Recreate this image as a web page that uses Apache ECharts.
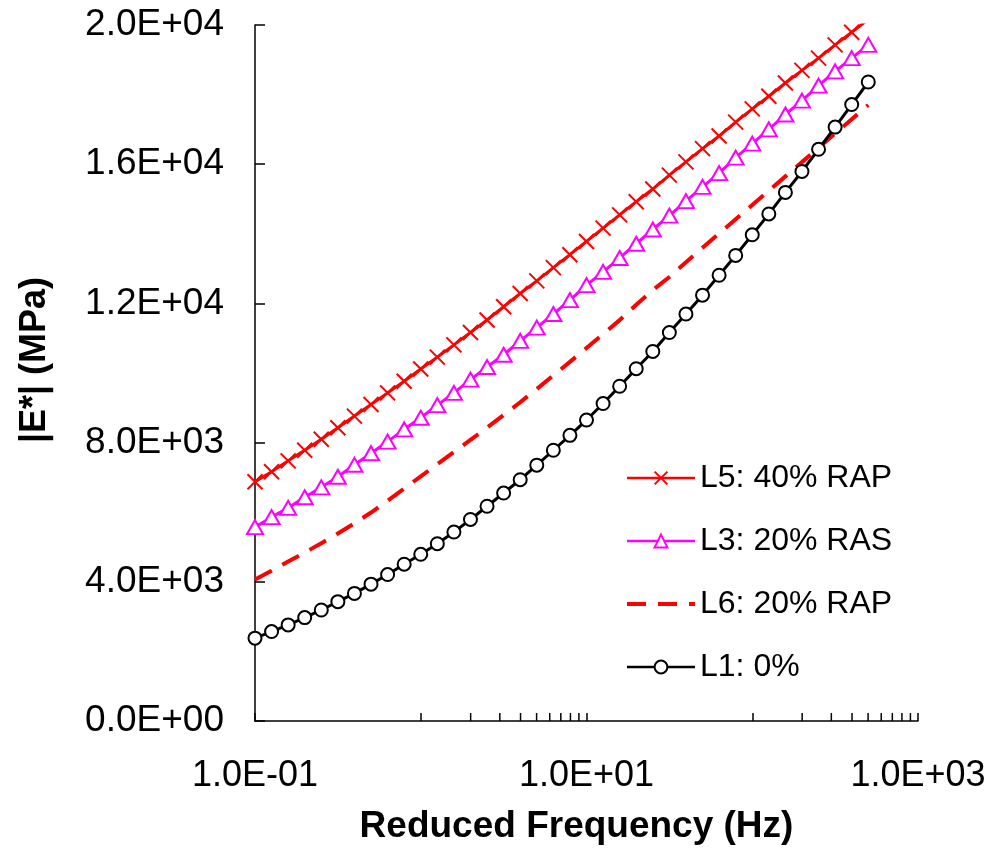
<!DOCTYPE html>
<html>
<head>
<meta charset="utf-8">
<title>|E*| vs Reduced Frequency</title>
<script src="https://cdn.jsdelivr.net/npm/echarts@6/dist/echarts.min.js"></script>
<style>
  html, body { margin: 0; padding: 0; background: #fff; }
  #chart { width: 992px; height: 850px; }
</style>
</head>
<body>
<div id="chart"></div>
<script>
// Reduced frequency sampling points (Hz)
const freq = [0.1, 0.1259, 0.1585, 0.1995, 0.2512, 0.3162, 0.3981, 0.5012, 0.631, 0.7943,
  1, 1.259, 1.585, 1.995, 2.512, 3.162, 3.981, 5.012, 6.31, 7.943,
  10, 12.59, 15.85, 19.95, 25.12, 31.62, 39.81, 50.12, 63.1, 79.43,
  100, 125.9, 158.5, 199.5, 251.2, 316.2, 398.1, 501.2];

// Dynamic modulus |E*| (MPa) for each mix
const l5RAP40 = [6876, 7162, 7476, 7781, 8095, 8429, 8762, 9095, 9429, 9762,
  10114, 10457, 10809, 11162, 11523, 11905, 12286, 12648, 13029, 13400,
  13781, 14162, 14543, 14923, 15286, 15686, 16066, 16448, 16809, 17209,
  17591, 17952, 18333, 18695, 19048, 19429, 19791, 20160];
const l3RAS20 = [5571, 5857, 6124, 6429, 6714, 7019, 7362, 7695, 8029, 8381,
  8714, 9076, 9429, 9810, 10171, 10524, 10924, 11305, 11695, 12095,
  12524, 12905, 13305, 13714, 14124, 14524, 14940, 15350, 15743, 16190,
  16590, 17000, 17428, 17828, 18257, 18666, 19048, 19429];
const l6RAP20 = [4066, 4320, 4580, 4840, 5110, 5390, 5680, 5990, 6330, 6680,
  7030, 7380, 7730, 8080, 8430, 8790, 9160, 9540, 9930, 10320,
  10720, 11120, 11520, 11960, 12380, 12760, 13180, 13600, 14010, 14420,
  14830, 15240, 15650, 16060, 16470, 16880, 17290, 17700];
const l1Control = [2380, 2571, 2762, 2971, 3190, 3429, 3666, 3933, 4209, 4505,
  4791, 5095, 5429, 5791, 6171, 6551, 6933, 7352, 7780, 8209,
  8648, 9123, 9619, 10123, 10619, 11162, 11694, 12237, 12809, 13380,
  13971, 14571, 15190, 15791, 16429, 17066, 17714, 18362];

const seriesNames = ['L5: 40% RAP', 'L3: 20% RAS', 'L6: 20% RAP', 'L1: 0%'];

// Labelled x ticks and the intermediate (minor) ticks of the log axis
const xLabelValues = [0.1, 10, 1000];
const minorTickValues = [2, 3, 4, 5, 6, 7, 8, 9, 200, 300, 400, 500, 600, 700, 800, 900];
const yTickInterval = 4000;

const FONT = "'Liberation Sans', Arial, Helvetica, sans-serif";
const X_MARK = 'path://M0,0 L10,10 M10,0 L0,10';

function sci(v) {
  const s = Number(v).toExponential(1);
  const parts = s.split('e');
  const sign = parts[1][0] === '-' ? '-' : '+';
  let e = parts[1].replace(/^[+-]/, '');
  if (e.length < 2) e = '0' + e;
  return parts[0] + 'E' + sign + e;
}

function pairs(ys) {
  return ys.map((y, i) => [freq[i], y]);
}

const chart = echarts.init(document.getElementById('chart'), null, { renderer: 'canvas' });

const option = {
  backgroundColor: '#ffffff',
  animation: false,
  grid: { left: 255, right: 74, top: 25, bottom: 125, containLabel: false },
  legend: {
    data: [
      { name: seriesNames[0], lineStyle: { width: 2.5 } },
      { name: seriesNames[1], lineStyle: { width: 2.5 } },
      { name: seriesNames[2], lineStyle: { width: 4 } },
      { name: seriesNames[3], lineStyle: { width: 2.5 } }
    ],
    orient: 'vertical',
    left: 620,
    top: 457,
    itemWidth: 68,
    itemHeight: 16,
    itemGap: 31,
    textStyle: { fontFamily: FONT, fontSize: 32, color: '#000' },
    selectedMode: false
  },
  xAxis: {
    type: 'log',
    logBase: 10,
    min: 0.1,
    max: 1000,
    name: 'Reduced Frequency (Hz)',
    nameLocation: 'middle',
    nameGap: 87,
    nameTextStyle: { fontFamily: FONT, fontSize: 37, fontWeight: 'bold', color: '#000', padding: [0, 20, 0, 0] },
    axisLine: { show: true, onZero: false, lineStyle: { color: '#000', width: 1.5 } },
    axisTick: { show: true, inside: true, length: 8, lineStyle: { color: '#000', width: 1.5 } },
    minorTick: { show: false },
    splitLine: { show: false },
    axisLabel: {
      margin: 37,
      fontFamily: FONT,
      fontSize: 36,
      color: '#000',
      formatter: function (v) {
        for (const t of xLabelValues) {
          if (Math.abs(Math.log10(v) - Math.log10(t)) < 1e-6) return sci(t);
        }
        return '';
      }
    }
  },
  yAxis: {
    type: 'value',
    min: 0,
    max: 20000,
    interval: yTickInterval,
    name: '|E*| (MPa)',
    nameLocation: 'middle',
    nameRotate: 90,
    nameGap: 202,
    nameTextStyle: { fontFamily: FONT, fontSize: 36, fontWeight: 'bold', color: '#000', padding: [0, 0, 0, 26] },
    axisLine: { show: true, lineStyle: { color: '#000', width: 1.5 } },
    axisTick: { show: true, inside: true, length: 10, lineStyle: { color: '#000', width: 1.5 } },
    splitLine: { show: false },
    axisLabel: {
      margin: 31,
      fontFamily: FONT,
      fontSize: 37,
      color: '#000',
      formatter: function (v) { return sci(v); }
    }
  },
  series: [
    {
      name: seriesNames[0],
      type: 'line',
      data: pairs(l5RAP40),
      clip: true,
      symbol: X_MARK,
      symbolSize: 15,
      itemStyle: { color: '#ff0000', borderColor: '#ff0000', borderWidth: 2 },
      lineStyle: { color: '#ff0000', width: 3 },
      z: 5
    },
    {
      name: seriesNames[1],
      type: 'line',
      data: pairs(l3RAS20),
      clip: true,
      symbol: 'triangle',
      symbolSize: [16, 14],
      itemStyle: { color: '#ffffff', borderColor: '#ff00ff', borderWidth: 2 },
      lineStyle: { color: '#ff00ff', width: 3 },
      z: 4
    },
    {
      name: seriesNames[2],
      type: 'line',
      data: pairs(l6RAP20),
      clip: true,
      symbol: 'circle',
      symbolSize: 0,
      showSymbol: false,
      itemStyle: { color: 'rgba(0,0,0,0)', borderWidth: 0 },
      lineStyle: { color: '#ff0000', width: 4, type: [19, 12] },
      z: 3
    },
    {
      name: seriesNames[3],
      type: 'line',
      data: pairs(l1Control),
      clip: true,
      symbol: 'circle',
      symbolSize: 13,
      itemStyle: { color: '#ffffff', borderColor: '#000000', borderWidth: 2 },
      lineStyle: { color: '#000000', width: 3 },
      z: 6
    },
    {
      // Intermediate tick marks of the log axis, drawn inward from the x axis
      name: 'minorTicks',
      type: 'custom',
      silent: true,
      clip: false,
      data: minorTickValues.map(v => [v, 0]),
      renderItem: function (params, api) {
        const p = api.coord([api.value(0), api.value(1)]);
        return {
          type: 'line',
          shape: { x1: p[0], y1: p[1], x2: p[0], y2: p[1] - 8 },
          style: { stroke: '#000', lineWidth: 1.5 }
        };
      },
      z: 2
    }
  ]
};

chart.setOption(option);
</script>
</body>
</html>
